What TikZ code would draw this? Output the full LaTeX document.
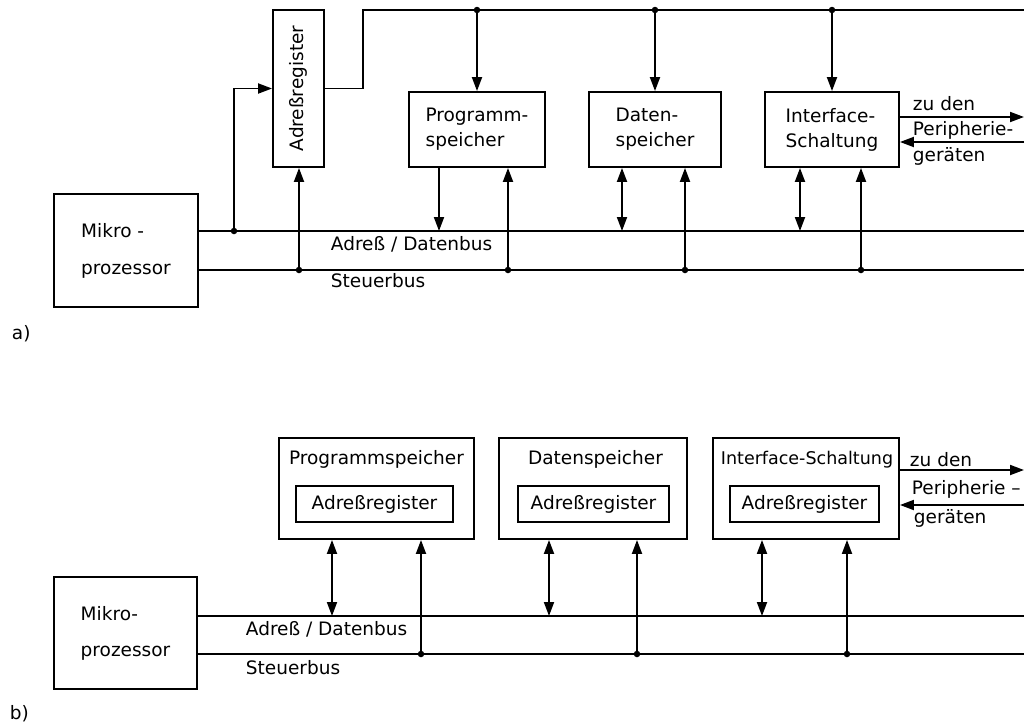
\documentclass[tikz,border=0pt]{standalone}
\usepackage{fontspec}
\setmainfont{DejaVu Sans}
\usetikzlibrary{arrows.meta}
\begin{document}
\begin{tikzpicture}[x=1pt,y=-1pt,
  line width=1.9pt,
  font=\fontsize{18.5}{22}\selectfont,
  box/.style={draw, line width=1.9pt, inner sep=0pt, align=left},
  arr/.style={-{Triangle[length=14pt,width=10pt]}},
  darr/.style={{Triangle[length=14pt,width=10pt]}-{Triangle[length=14pt,width=10pt]}},
  dot/.style={circle, fill, inner sep=0pt, minimum size=6.5pt},
  lbl/.style={anchor=base west, inner sep=0pt},
  ttl/.style={anchor=base, inner sep=0pt}]
\useasboundingbox (0,0) rectangle (1026,726);

% ---------------- a) ----------------
\node[box, minimum width=144pt, minimum height=113pt,
      font=\fontsize{18.5}{37}\selectfont] (mpA) at (126,250.5) {Mikro -\\prozessor};
\node[box, minimum width=51pt, minimum height=157pt] (arA) at (298.5,88.5) {};
\node[rotate=90, inner sep=0pt] (arAt) at (arA.center) {Adreßregister};
\node[box, minimum width=136pt, minimum height=75pt,
      font=\fontsize{18.5}{25}\selectfont] (psA) at (477,129.5) {Programm-\\speicher};
\node[box, minimum width=132pt, minimum height=75pt,
      font=\fontsize{18.5}{25}\selectfont] (dsA) at (655,129.5) {Daten-\\speicher};
\node[box, minimum width=134pt, minimum height=75pt,
      font=\fontsize{18.5}{25}\selectfont] (isA) at (832,129.5) {Interface-\\Schaltung};

% bus ends and junctions
\coordinate (abA) at (1024,231);
\coordinate (sbA) at (1024,270);
\coordinate (tkA) at (363,10);
\coordinate (tbA) at (1024,10);
\coordinate (j1) at (234,231);
\coordinate (sa1) at (299,270);
\coordinate (da1) at (439,231);
\coordinate (sa2) at (508,270);
\coordinate (da2) at (622,231);
\coordinate (sa3) at (685,270);
\coordinate (da3) at (800,231);
\coordinate (sa4) at (861,270);

\draw (mpA.east |- abA) -- (abA);
\draw (mpA.east |- sbA) -- (sbA);
\draw[arr] (j1) |- (arA.west);
\draw (arA.east) -| (tkA) -- (tbA);

\draw[arr] (psA.north |- tbA) -- (psA.north);
\draw[arr] (dsA.north |- tbA) -- (dsA.north);
\draw[arr] (isA.north |- tbA) -- (isA.north);

\draw[arr] (sa1) -- (sa1 |- arA.south);
\draw[arr] (da1 |- psA.south) -- (da1);
\draw[arr] (sa2) -- (sa2 |- psA.south);
\draw[darr] (da2 |- dsA.south) -- (da2);
\draw[arr] (sa3) -- (sa3 |- dsA.south);
\draw[darr] (da3 |- isA.south) -- (da3);
\draw[arr] (sa4) -- (sa4 |- isA.south);

\foreach \p in {j1,sa1,sa2,sa3,sa4} \node[dot] at (\p) {};
\node[dot] at (psA.north |- tbA) {};
\node[dot] at (dsA.north |- tbA) {};
\node[dot] at (isA.north |- tbA) {};

\coordinate (peA1) at (1024,117);
\coordinate (peA2) at (1024,142);
\draw[arr] (peA1 -| isA.east) -- (peA1);
\draw[arr] (peA2) -- (peA2 -| isA.east);
\node[lbl] (zuA) at (912,110) {zu den};
\node[lbl] (peA) at (912,135) {Peripherie-};
\node[lbl] (geA) at (912,161) {geräten};

\node[lbl] (abAl) at (330,250) {Adreß / Datenbus};
\node[lbl] (sbAl) at (330,287) {Steuerbus};
\node[lbl] (la) at (11,339) {a)};

% ---------------- b) ----------------
\node[box, minimum width=143pt, minimum height=112pt,
      font=\fontsize{18.5}{36}\selectfont] (mpB) at (125.5,633) {Mikro-\\prozessor};

\node[box, minimum width=195pt, minimum height=101pt] (psB) at (376.5,488.5) {};
\node[ttl] (psBt) at (376.5,464) {Programmspeicher};
\node[box, minimum width=157pt, minimum height=36pt] (psBr) at (374.5,504) {Adreßregister};

\node[box, minimum width=188pt, minimum height=101pt] (dsB) at (593,488.5) {};
\node[ttl] (dsBt) at (595.5,464) {Datenspeicher};
\node[box, minimum width=151pt, minimum height=36pt] (dsBr) at (593.5,504) {Adreßregister};

\node[box, minimum width=186pt, minimum height=101pt] (isB) at (806,488.5) {};
\node[ttl, font=\fontsize{17.5}{22}\selectfont] (isBt) at (807,464) {Interface-Schaltung};
\node[box, minimum width=149pt, minimum height=36pt] (isBr) at (804.5,504) {Adreßregister};

\coordinate (abB) at (1024,616);
\coordinate (sbB) at (1024,654);
\coordinate (db1) at (332,616);
\coordinate (sb1) at (421,654);
\coordinate (db2) at (549,616);
\coordinate (sb2) at (637,654);
\coordinate (db3) at (762,616);
\coordinate (sb3) at (847,654);

\draw (mpB.east |- abB) -- (abB);
\draw (mpB.east |- sbB) -- (sbB);

\draw[darr] (db1 |- psB.south) -- (db1);
\draw[arr] (sb1) -- (sb1 |- psB.south);
\draw[darr] (db2 |- dsB.south) -- (db2);
\draw[arr] (sb2) -- (sb2 |- dsB.south);
\draw[darr] (db3 |- isB.south) -- (db3);
\draw[arr] (sb3) -- (sb3 |- isB.south);
\foreach \p in {sb1,sb2,sb3} \node[dot] at (\p) {};

\coordinate (peB1) at (1024,470);
\coordinate (peB2) at (1024,505);
\draw[arr] (peB1 -| isB.east) -- (peB1);
\draw[arr] (peB2) -- (peB2 -| isB.east);
\node[lbl] (zuB) at (909,466) {zu den};
\node[lbl] (peB) at (911,494) {Peripherie –};
\node[lbl] (geB) at (913,523) {geräten};

\node[lbl] (abBl) at (245,635) {Adreß / Datenbus};
\node[lbl] (sbBl) at (245,674) {Steuerbus};
\node[lbl] (lb) at (9,719) {b)};
\end{tikzpicture}
\end{document}
